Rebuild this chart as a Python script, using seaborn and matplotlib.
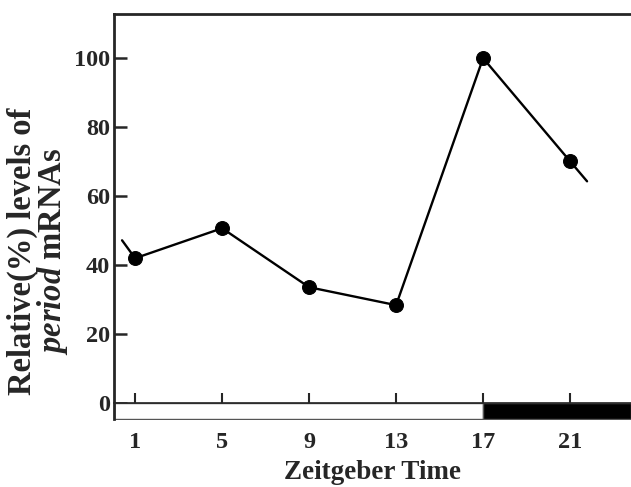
import matplotlib
matplotlib.use("Agg")
import matplotlib.pyplot as plt
import seaborn as sns
import pandas as pd

# ─────────────── Data ───────────────
zt = [1, 5, 9, 13, 17, 21]
per_level = [42.0, 50.7, 33.6, 28.4, 100.0, 70.1]

# short wrap-around segments at both ends of the trace
lead_x = [0.40, 1]
lead_y = [47.2, 42.0]
tail_x = [21, 21.78]
tail_y = [70.1, 64.3]

# light / dark bar below the zero line
phase_start = [0.03, 17]
phase_end = [17, 23.8]
phase_color = ["white", "black"]

x_ticks = [1, 5, 9, 13, 17, 21]
y_ticks = [0, 20, 40, 60, 80, 100]

# ─────────────── Style ───────────────
sns.set_style("ticks")
plt.rcParams["font.family"] = ["Liberation Serif", "DejaVu Serif"]
plt.rcParams["font.weight"] = "bold"
plt.rcParams["mathtext.fontset"] = "custom"
plt.rcParams["mathtext.it"] = "Liberation Serif:italic:bold"
plt.rcParams["mathtext.rm"] = "Liberation Serif:bold"

fig, ax = plt.subplots(figsize=(6.31, 4.87), dpi=100)
fig.subplots_adjust(left=114 / 631, right=1.0, top=1 - 14 / 487, bottom=1 - 419 / 487)

df = pd.DataFrame({"ZT": zt, "level": per_level})
sns.lineplot(data=df, x="ZT", y="level", ax=ax, color="black", lw=1.7,
             marker="o", markersize=10, markeredgecolor="black")
ax.plot(lead_x, lead_y, color="black", lw=1.7)
ax.plot(tail_x, tail_y, color="black", lw=1.7)

bar_bottom = -4.6
for x0, x1, c in zip(phase_start, phase_end, phase_color):
    ax.fill_between([x0, x1], bar_bottom, 0, color=c, edgecolor="#555555", lw=1.0, zorder=1)

ax.set_xlim(0.03, 23.8)
ax.set_ylim(bar_bottom, 112.8)

ax.spines["right"].set_visible(False)
ax.spines["bottom"].set_position(("data", 0))
ax.spines["bottom"].set_linewidth(1.2)
ax.spines["left"].set_linewidth(2.0)
ax.spines["top"].set_linewidth(2.0)

ax.set_xticks(x_ticks)
ax.set_yticks(y_ticks)
ax.tick_params(axis="y", direction="in", length=9, width=1.8, pad=3, labelsize=17.5)
ax.tick_params(axis="x", direction="in", length=7, width=1.5, pad=21, labelsize=17.5)
for lab in ax.get_xticklabels() + ax.get_yticklabels():
    lab.set_fontweight("bold")

ax.set_xlabel("Zeitgeber Time", fontsize=19.5, fontweight="bold", labelpad=5)
ax.set_ylabel("Relative(%) levels of\n$\\mathit{period}$ mRNAs", fontsize=23.5,
              fontweight="bold", linespacing=0.85)
ax.yaxis.set_label_coords(-0.086, 0.415)

fig.savefig("out.png", dpi=100)
